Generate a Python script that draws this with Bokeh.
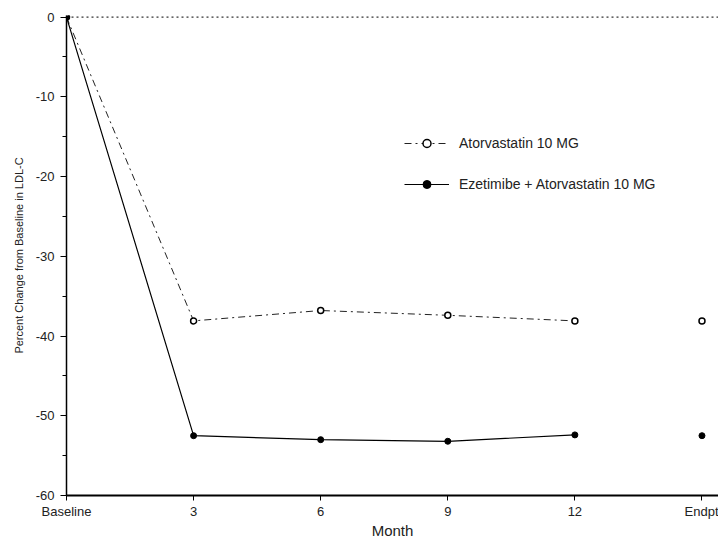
from bokeh.plotting import figure
from bokeh.models import (Range1d, FixedTicker, SingleIntervalTicker, Span, Legend,
                          LegendItem, PrintfTickFormatter)
from bokeh.embed import file_html
from bokeh.resources import INLINE

# ---- data ----
month_labels = ["Baseline", "3", "6", "9", "12", "Endpt"]
x_pos = [0, 1, 2, 3, 4, 5]
atorva_line_x = [0, 1, 2, 3, 4]
atorva_line_y = [0, -38.1, -36.8, -37.4, -38.1]
ezet_line_x = [0, 1, 2, 3, 4]
ezet_line_y = [0, -52.5, -53.0, -53.2, -52.4]
atorva_pts_x = [0, 1, 2, 3, 4, 5]
atorva_pts_y = [0, -38.1, -36.8, -37.4, -38.1, -38.1]
ezet_pts_x = [0, 1, 2, 3, 4, 5]
ezet_pts_y = [0, -52.5, -53.0, -53.2, -52.4, -52.5]

FONT = "Liberation Sans"

p = figure(width=718, height=541, output_backend="svg", toolbar_location=None,
           x_range=Range1d(0, 5.13), y_range=Range1d(-60, 0.2),
           min_border_left=66, min_border_right=0, min_border_top=15, min_border_bottom=36)
p.outline_line_color = None
p.xgrid.visible = False
p.ygrid.visible = False
p.background_fill_color = "white"
p.border_fill_color = "white"

# zero reference line
p.add_layout(Span(location=0, dimension="width", line_color="black",
                  line_dash="2 3", line_width=1))

r1l = p.line(atorva_line_x, atorva_line_y, line_color="#222222", line_width=1,
             line_dash="7 4 2 4")
r1p = p.scatter(atorva_pts_x, atorva_pts_y, marker="circle", size=6,
                fill_color="white", line_color="black", line_width=1.5)
r2l = p.line(ezet_line_x, ezet_line_y, line_color="black", line_width=1.2)
r2p = p.scatter(ezet_pts_x, ezet_pts_y, marker="circle", size=6,
                fill_color="black", line_color="black")

legend = Legend(items=[LegendItem(label="Atorvastatin 10 MG", renderers=[r1l, r1p]),
                       LegendItem(label="Ezetimibe + Atorvastatin 10 MG", renderers=[r2l, r2p])],
                location=(338, 301))
legend.background_fill_alpha = 0
legend.border_line_color = None
legend.padding = 0
legend.margin = 0
legend.spacing = 21
legend.glyph_width = 45
legend.glyph_height = 20
legend.label_standoff = 10
legend.label_text_font = FONT
legend.label_text_font_size = "14px"
legend.label_text_color = "#222222"
p.add_layout(legend)

# axes
xa = p.xaxis[0]
xa.ticker = FixedTicker(ticks=x_pos, minor_ticks=[])
xa.major_label_overrides = {x: l for x, l in zip(x_pos, month_labels)}
xa.axis_line_width = 2
xa.axis_line_color = "black"
xa.major_tick_in = 0
xa.major_tick_out = 5
xa.minor_tick_out = 0
xa.minor_tick_in = 0
xa.major_label_standoff = 3
xa.major_label_text_font = FONT
xa.major_label_text_font_size = "13px"
xa.major_label_text_color = "#222222"
xa.axis_label = "Month"
xa.axis_label_text_font = FONT
xa.axis_label_text_font_size = "15px"
xa.axis_label_text_font_style = "normal"
xa.axis_label_text_color = "#222222"
xa.axis_label_standoff = 0

ya = p.yaxis[0]
ya.ticker = SingleIntervalTicker(interval=10, num_minor_ticks=2)
ya.formatter = PrintfTickFormatter(format="%d")
ya.axis_line_width = 1.5
ya.axis_line_color = "black"
ya.major_tick_in = 0
ya.major_tick_out = 6
ya.minor_tick_in = 0
ya.minor_tick_out = 4
ya.major_label_standoff = 6
ya.major_label_text_font = FONT
ya.major_label_text_font_size = "13px"
ya.major_label_text_color = "#222222"
ya.axis_label = "Percent Change from Baseline in LDL-C"
ya.axis_label_text_font = FONT
ya.axis_label_text_font_size = "11px"
ya.axis_label_text_font_style = "normal"
ya.axis_label_text_color = "#222222"
ya.axis_label_standoff = 8

open("out.html", "w").write(file_html(p, INLINE))
